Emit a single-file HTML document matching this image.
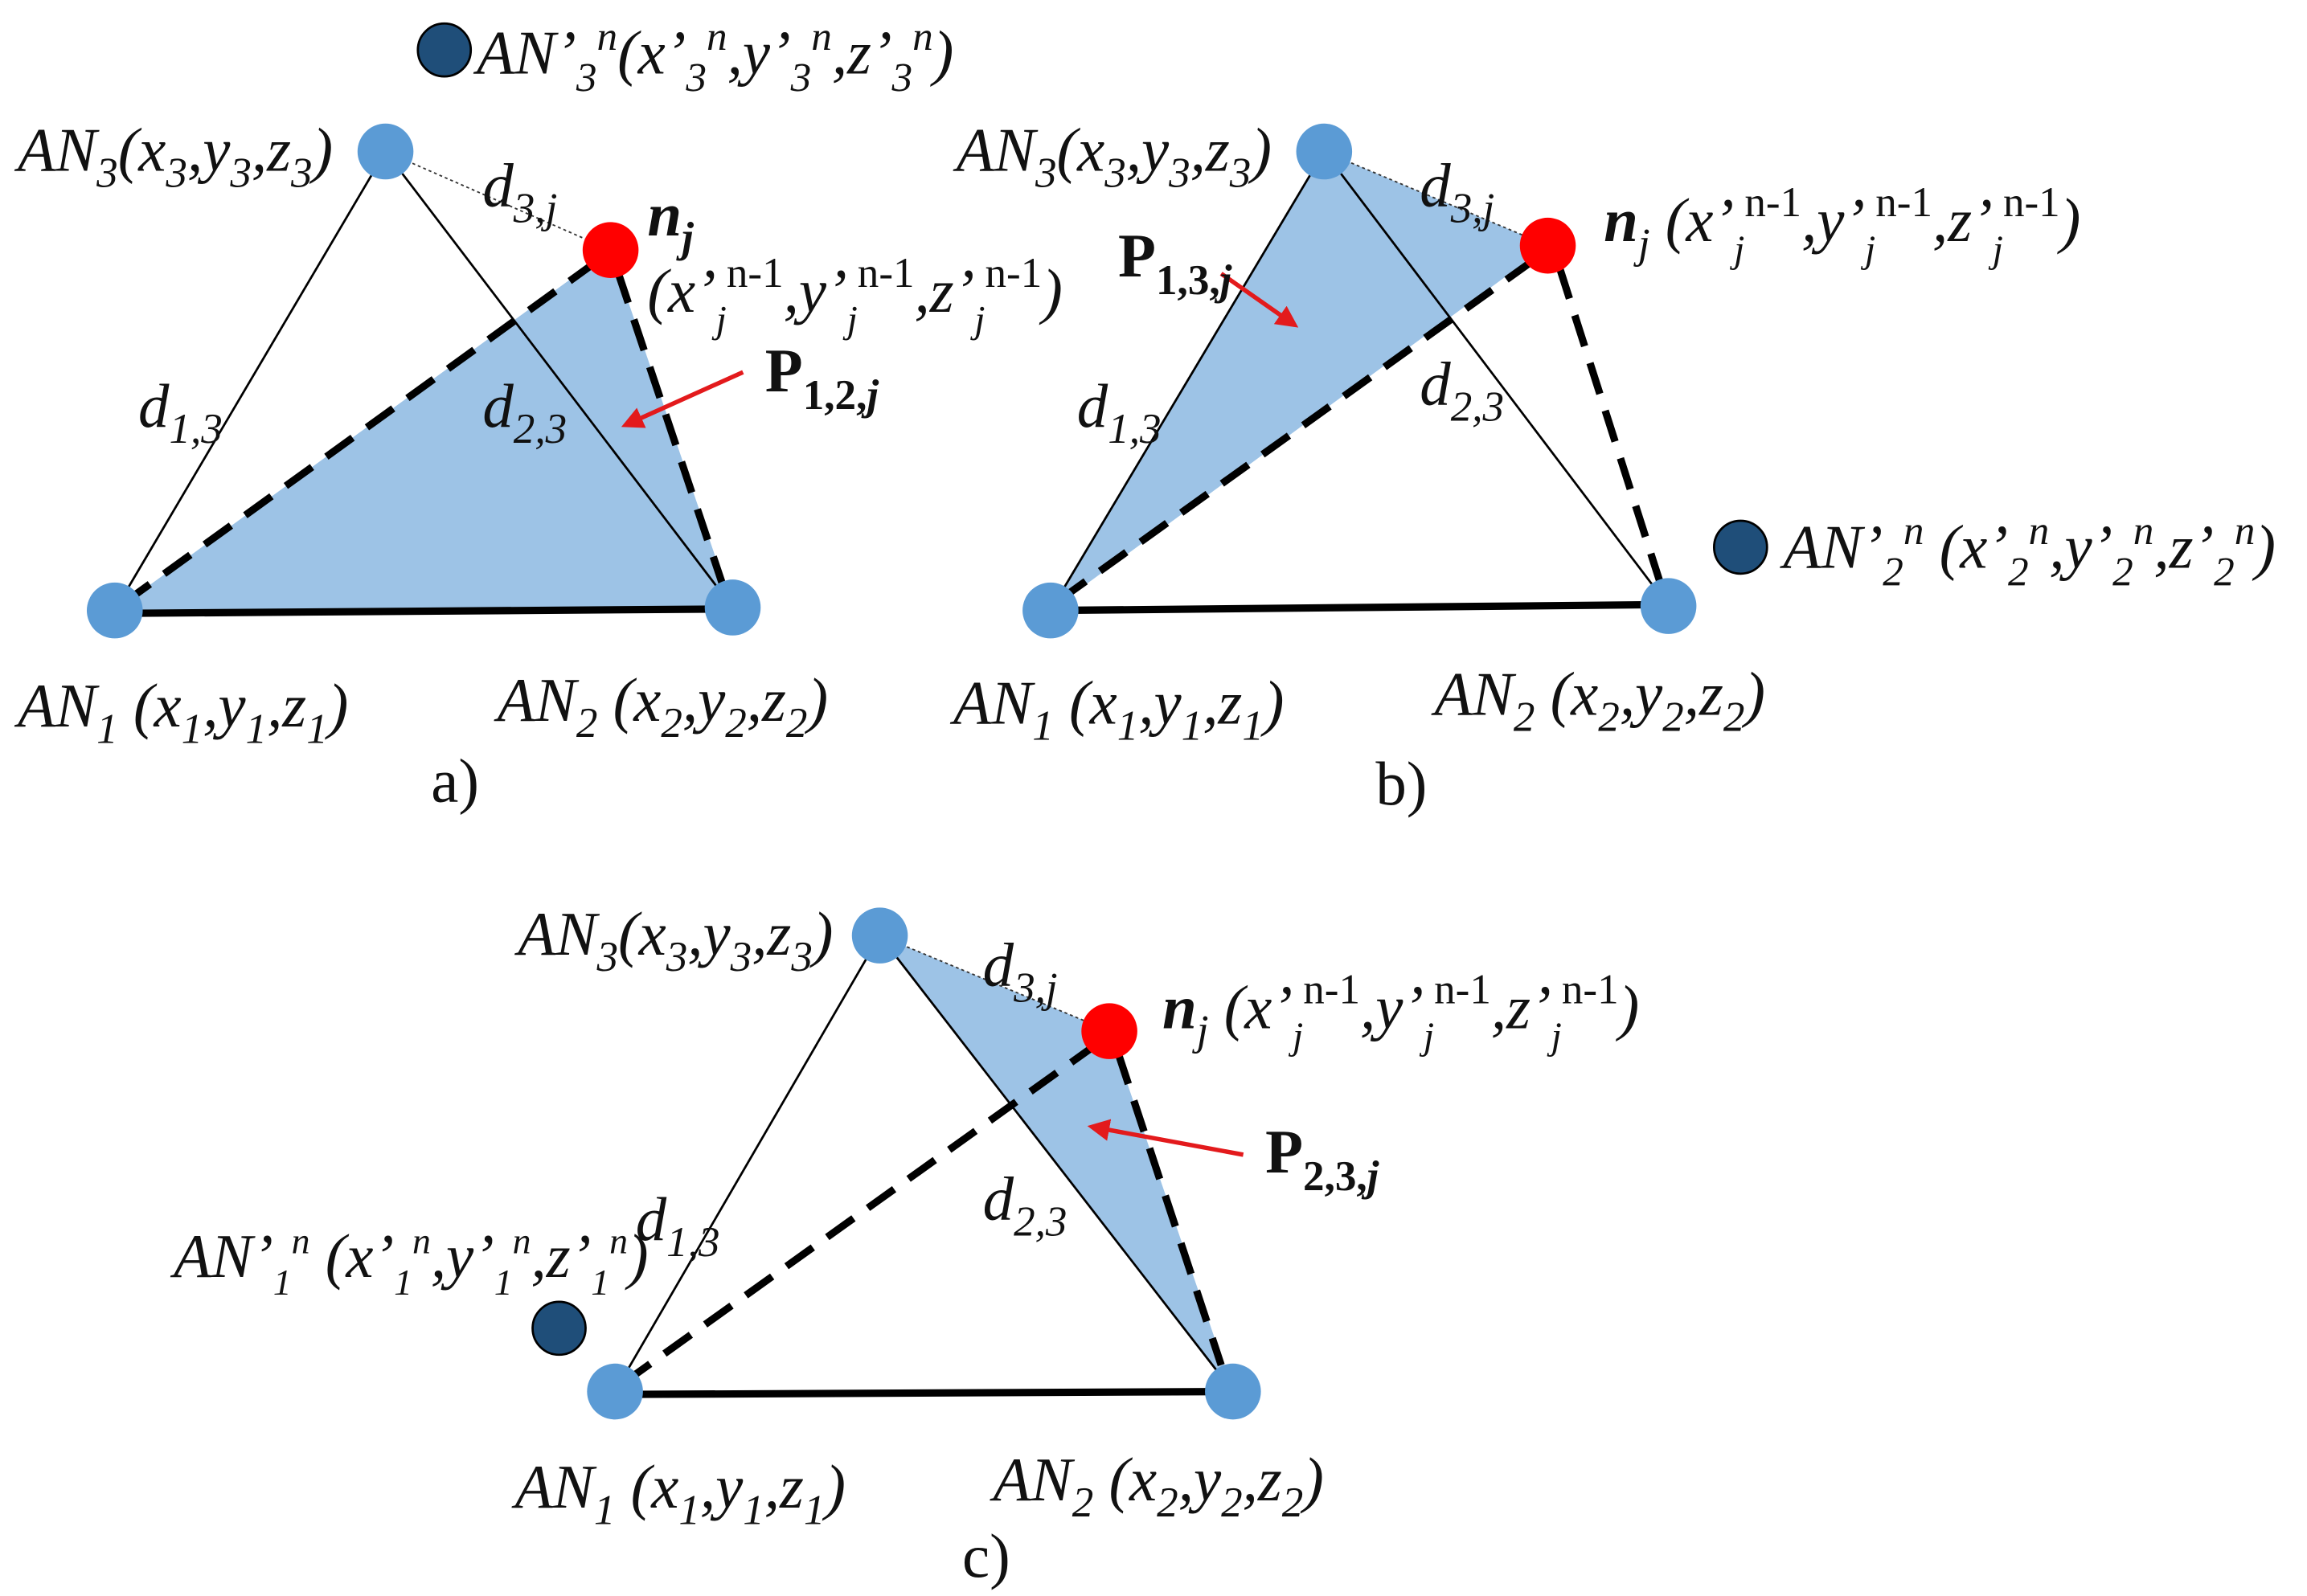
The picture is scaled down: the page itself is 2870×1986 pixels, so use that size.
<!DOCTYPE html>
<html><head><meta charset="utf-8"><style>
html,body{margin:0;padding:0;background:#fff;}
svg{display:block;}
text{font-family:"Liberation Serif",serif;font-style:italic;font-size:42px;fill:#111;}
.b{font-weight:bold;}
.up{font-style:normal;}
</style></head><body>
<svg width="2870" height="1986" viewBox="0 0 1568 1085" preserveAspectRatio="none" xmlns="http://www.w3.org/2000/svg">
<defs>
<marker id="ar" viewBox="0 0 10 10" refX="8" refY="5" markerWidth="5" markerHeight="5" orient="auto"><path d="M0,0 L10,5 L0,10 z" fill="#e31a1c"/></marker>
</defs>

<!-- ========== Panel a ========== -->
<polygon points="78,415 415,170 498,413" fill="#9dc3e6"/>
<line x1="78" y1="415" x2="262" y2="103" stroke="#000" stroke-width="1.5"/>
<line x1="262" y1="103" x2="498" y2="413" stroke="#000" stroke-width="1.5"/>
<line x1="262" y1="103" x2="415" y2="170" stroke="#333" stroke-width="1" stroke-dasharray="2,2"/>
<line x1="78" y1="417" x2="498" y2="414" stroke="#000" stroke-width="5"/>
<line x1="84" y1="410" x2="408" y2="176" stroke="#000" stroke-width="5" stroke-dasharray="22,12"/>
<line x1="420" y1="185" x2="492" y2="400" stroke="#000" stroke-width="5" stroke-dasharray="22,12"/>
<circle cx="262" cy="103" r="19" fill="#5b9bd5"/>
<circle cx="415" cy="170" r="19" fill="#ff0000"/>
<circle cx="78" cy="415" r="19" fill="#5b9bd5"/>
<circle cx="498" cy="413" r="19" fill="#5b9bd5"/>
<circle cx="302" cy="34" r="18" fill="#1f4e79" stroke="#000" stroke-width="1.5"/>
<line x1="505" y1="253" x2="425" y2="289" stroke="#e31a1c" stroke-width="3" marker-end="url(#ar)"/>

<text x="324" y="50">AN’<tspan font-size="28" dy="12">3</tspan><tspan font-size="28" dy="-28">n</tspan><tspan dy="16">(x’</tspan><tspan font-size="28" dy="12">3</tspan><tspan font-size="28" dy="-28">n</tspan><tspan dy="16">,y’</tspan><tspan font-size="28" dy="12">3</tspan><tspan font-size="28" dy="-28">n</tspan><tspan dy="16">,z’</tspan><tspan font-size="28" dy="12">3</tspan><tspan font-size="28" dy="-28">n</tspan><tspan dy="16">)</tspan></text>
<text x="12" y="116">AN<tspan font-size="29" dy="11">3</tspan><tspan dy="-11">(x</tspan><tspan font-size="29" dy="11">3</tspan><tspan dy="-11">,y</tspan><tspan font-size="29" dy="11">3</tspan><tspan dy="-11">,z</tspan><tspan font-size="29" dy="11">3</tspan><tspan dy="-11">)</tspan></text>
<text x="328" y="140">d<tspan font-size="29" dy="11">3,j</tspan></text>
<text x="440" y="160" class="b">n<tspan font-size="29" dy="11">j</tspan></text>
<text x="440" y="212">(x’<tspan font-size="26" dy="14">j</tspan><tspan font-size="29" dy="-31" class="up">n-1</tspan><tspan dy="17">,y’</tspan><tspan font-size="26" dy="14">j</tspan><tspan font-size="29" dy="-31" class="up">n-1</tspan><tspan dy="17">,z’</tspan><tspan font-size="26" dy="14">j</tspan><tspan font-size="29" dy="-31" class="up">n-1</tspan><tspan dy="17">)</tspan></text>
<text x="520" y="266" class="b up">P<tspan font-size="29" dy="12">1,2,</tspan><tspan font-size="29" style="font-style:italic">j</tspan></text>
<text x="94" y="290">d<tspan font-size="29" dy="11">1,3</tspan></text>
<text x="328" y="290">d<tspan font-size="29" dy="11">2,3</tspan></text>
<text x="12" y="494">AN<tspan font-size="29" dy="11">1</tspan><tspan dy="-11"> (x</tspan><tspan font-size="29" dy="11">1</tspan><tspan dy="-11">,y</tspan><tspan font-size="29" dy="11">1</tspan><tspan dy="-11">,z</tspan><tspan font-size="29" dy="11">1</tspan><tspan dy="-11">)</tspan></text>
<text x="338" y="490">AN<tspan font-size="29" dy="11">2</tspan><tspan dy="-11"> (x</tspan><tspan font-size="29" dy="11">2</tspan><tspan dy="-11">,y</tspan><tspan font-size="29" dy="11">2</tspan><tspan dy="-11">,z</tspan><tspan font-size="29" dy="11">2</tspan><tspan dy="-11">)</tspan></text>
<text x="293" y="545" font-size="22" class="up">a)</text>

<!-- ========== Panel b ========== -->
<polygon points="714,415 900,103 1052,167" fill="#9dc3e6"/>
<line x1="714" y1="415" x2="900" y2="103" stroke="#000" stroke-width="1.5"/>
<line x1="900" y1="103" x2="1134" y2="412" stroke="#000" stroke-width="1.5"/>
<line x1="900" y1="103" x2="1052" y2="167" stroke="#333" stroke-width="1" stroke-dasharray="2,2"/>
<line x1="714" y1="415" x2="1134" y2="411" stroke="#000" stroke-width="5"/>
<line x1="720" y1="408" x2="1045" y2="175" stroke="#000" stroke-width="5" stroke-dasharray="22,12"/>
<line x1="1060" y1="182" x2="1128" y2="395" stroke="#000" stroke-width="5" stroke-dasharray="22,12"/>
<circle cx="900" cy="103" r="19" fill="#5b9bd5"/>
<circle cx="1052" cy="167" r="19" fill="#ff0000"/>
<circle cx="714" cy="415" r="19" fill="#5b9bd5"/>
<circle cx="1134" cy="412" r="19" fill="#5b9bd5"/>
<circle cx="1183" cy="372" r="18" fill="#1f4e79" stroke="#000" stroke-width="1.5"/>
<line x1="830" y1="186" x2="880" y2="221" stroke="#e31a1c" stroke-width="3" marker-end="url(#ar)"/>

<text x="650" y="116">AN<tspan font-size="29" dy="11">3</tspan><tspan dy="-11">(x</tspan><tspan font-size="29" dy="11">3</tspan><tspan dy="-11">,y</tspan><tspan font-size="29" dy="11">3</tspan><tspan dy="-11">,z</tspan><tspan font-size="29" dy="11">3</tspan><tspan dy="-11">)</tspan></text>
<text x="965" y="140">d<tspan font-size="29" dy="11">3,j</tspan></text>
<text x="1090" y="164"><tspan class="b">n</tspan><tspan font-size="29" dy="11">j</tspan><tspan dy="-11"> (x’</tspan><tspan font-size="26" dy="14">j</tspan><tspan font-size="29" dy="-31" class="up">n-1</tspan><tspan dy="17">,y’</tspan><tspan font-size="26" dy="14">j</tspan><tspan font-size="29" dy="-31" class="up">n-1</tspan><tspan dy="17">,z’</tspan><tspan font-size="26" dy="14">j</tspan><tspan font-size="29" dy="-31" class="up">n-1</tspan><tspan dy="17">)</tspan></text>
<text x="760" y="188" class="b up">P<tspan font-size="29" dy="12">1,3,</tspan><tspan font-size="29" style="font-style:italic">j</tspan></text>
<text x="732" y="290">d<tspan font-size="29" dy="11">1,3</tspan></text>
<text x="965" y="275">d<tspan font-size="29" dy="11">2,3</tspan></text>
<text x="1212" y="386">AN’<tspan font-size="28" dy="12">2</tspan><tspan font-size="28" dy="-28">n</tspan><tspan dy="16"> (x’</tspan><tspan font-size="28" dy="12">2</tspan><tspan font-size="28" dy="-28">n</tspan><tspan dy="16">,y’</tspan><tspan font-size="28" dy="12">2</tspan><tspan font-size="28" dy="-28">n</tspan><tspan dy="16">,z’</tspan><tspan font-size="28" dy="12">2</tspan><tspan font-size="28" dy="-28">n</tspan><tspan dy="16">)</tspan></text>
<text x="648" y="492">AN<tspan font-size="29" dy="11">1</tspan><tspan dy="-11"> (x</tspan><tspan font-size="29" dy="11">1</tspan><tspan dy="-11">,y</tspan><tspan font-size="29" dy="11">1</tspan><tspan dy="-11">,z</tspan><tspan font-size="29" dy="11">1</tspan><tspan dy="-11">)</tspan></text>
<text x="975" y="486">AN<tspan font-size="29" dy="11">2</tspan><tspan dy="-11"> (x</tspan><tspan font-size="29" dy="11">2</tspan><tspan dy="-11">,y</tspan><tspan font-size="29" dy="11">2</tspan><tspan dy="-11">,z</tspan><tspan font-size="29" dy="11">2</tspan><tspan dy="-11">)</tspan></text>
<text x="935" y="547" font-size="22" class="up">b)</text>

<!-- ========== Panel c ========== -->
<polygon points="598,636 754,701 838,946" fill="#9dc3e6"/>
<line x1="418" y1="946" x2="598" y2="636" stroke="#000" stroke-width="1.5"/>
<line x1="598" y1="636" x2="838" y2="946" stroke="#000" stroke-width="1.5"/>
<line x1="598" y1="636" x2="754" y2="701" stroke="#333" stroke-width="1" stroke-dasharray="2,2"/>
<line x1="418" y1="948" x2="838" y2="946" stroke="#000" stroke-width="5"/>
<line x1="424" y1="940" x2="748" y2="708" stroke="#000" stroke-width="5" stroke-dasharray="22,12"/>
<line x1="760" y1="716" x2="830" y2="928" stroke="#000" stroke-width="5" stroke-dasharray="22,12"/>
<circle cx="598" cy="636" r="19" fill="#5b9bd5"/>
<circle cx="754" cy="701" r="19" fill="#ff0000"/>
<circle cx="418" cy="946" r="19" fill="#5b9bd5"/>
<circle cx="838" cy="946" r="19" fill="#5b9bd5"/>
<circle cx="380" cy="903" r="18" fill="#1f4e79" stroke="#000" stroke-width="1.5"/>
<line x1="845" y1="785" x2="742" y2="766" stroke="#e31a1c" stroke-width="3" marker-end="url(#ar)"/>

<text x="352" y="649">AN<tspan font-size="29" dy="11">3</tspan><tspan dy="-11">(x</tspan><tspan font-size="29" dy="11">3</tspan><tspan dy="-11">,y</tspan><tspan font-size="29" dy="11">3</tspan><tspan dy="-11">,z</tspan><tspan font-size="29" dy="11">3</tspan><tspan dy="-11">)</tspan></text>
<text x="668" y="670">d<tspan font-size="29" dy="11">3,j</tspan></text>
<text x="790" y="699"><tspan class="b">n</tspan><tspan font-size="29" dy="11">j</tspan><tspan dy="-11"> (x’</tspan><tspan font-size="26" dy="14">j</tspan><tspan font-size="29" dy="-31" class="up">n-1</tspan><tspan dy="17">,y’</tspan><tspan font-size="26" dy="14">j</tspan><tspan font-size="29" dy="-31" class="up">n-1</tspan><tspan dy="17">,z’</tspan><tspan font-size="26" dy="14">j</tspan><tspan font-size="29" dy="-31" class="up">n-1</tspan><tspan dy="17">)</tspan></text>
<text x="860" y="797" class="b up">P<tspan font-size="29" dy="12">2,3,</tspan><tspan font-size="29" style="font-style:italic">j</tspan></text>
<text x="432" y="843">d<tspan font-size="29" dy="11">1,3</tspan></text>
<text x="668" y="829">d<tspan font-size="29" dy="11">2,3</tspan></text>
<text x="118" y="868" font-size="38">AN’<tspan font-size="25" dy="12">1</tspan><tspan font-size="25" dy="-28">n</tspan><tspan dy="16"> (x’</tspan><tspan font-size="25" dy="12">1</tspan><tspan font-size="25" dy="-28">n</tspan><tspan dy="16">,y’</tspan><tspan font-size="25" dy="12">1</tspan><tspan font-size="25" dy="-28">n</tspan><tspan dy="16">,z’</tspan><tspan font-size="25" dy="12">1</tspan><tspan font-size="25" dy="-28">n</tspan><tspan dy="16">)</tspan></text>
<text x="350" y="1025">AN<tspan font-size="29" dy="11">1</tspan><tspan dy="-11"> (x</tspan><tspan font-size="29" dy="11">1</tspan><tspan dy="-11">,y</tspan><tspan font-size="29" dy="11">1</tspan><tspan dy="-11">,z</tspan><tspan font-size="29" dy="11">1</tspan><tspan dy="-11">)</tspan></text>
<text x="675" y="1020">AN<tspan font-size="29" dy="11">2</tspan><tspan dy="-11"> (x</tspan><tspan font-size="29" dy="11">2</tspan><tspan dy="-11">,y</tspan><tspan font-size="29" dy="11">2</tspan><tspan dy="-11">,z</tspan><tspan font-size="29" dy="11">2</tspan><tspan dy="-11">)</tspan></text>
<text x="654" y="1072" font-size="22" class="up">c)</text>
</svg>
</body></html>
